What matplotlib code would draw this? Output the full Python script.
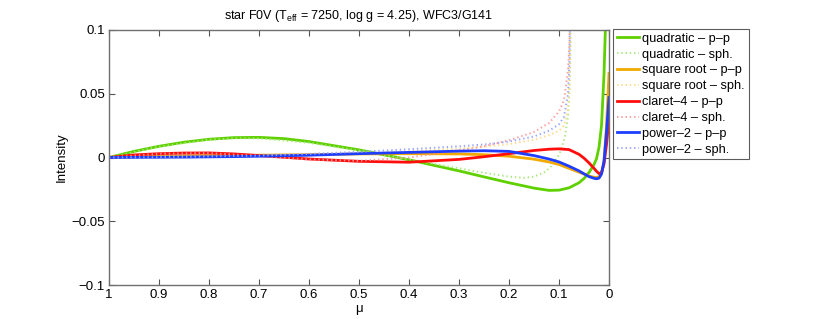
import matplotlib
matplotlib.use("Agg")
import matplotlib.pyplot as plt
from matplotlib.ticker import FixedLocator, FixedFormatter

plt.rcParams['font.family'] = ['Liberation Sans', 'DejaVu Sans']
plt.rcParams['mathtext.default'] = 'regular'

# ---- data ----
mu_pp = [1.0, 0.95, 0.9, 0.85, 0.8, 0.75, 0.7, 0.65, 0.6, 0.5, 0.4, 0.3, 0.25, 0.2, 0.15,
         0.12, 0.1, 0.08, 0.06, 0.05, 0.04, 0.03, 0.025, 0.02, 0.015, 0.01, 0.005, 0.0]
quad_pp = [0.0, 0.0048, 0.0088, 0.0120, 0.0143, 0.0156, 0.0158, 0.0148, 0.0125, 0.0060,
           -0.0018, -0.0105, -0.0152, -0.0198, -0.0240, -0.0258, -0.0256, -0.0238, -0.0198,
           -0.0165, -0.0118, -0.0055, -0.0010, 0.0080, 0.0250, 0.0650, 0.1300, 0.2000]
sqrt_pp = [0.0, 0.0006, 0.0010, 0.0013, 0.0015, 0.0017, 0.0018, 0.0020, 0.0022, 0.0028,
           0.0030, 0.0028, 0.0022, 0.0010, -0.0013, -0.0035, -0.0055, -0.0085, -0.0115,
           -0.0130, -0.0145, -0.0155, -0.0156, -0.0150, -0.0125, -0.0030, 0.0250, 0.0660]
clar_pp = [0.0, 0.0020, 0.0030, 0.0035, 0.0036, 0.0028, 0.0015, 0.0002, -0.0012, -0.0030,
           -0.0037, -0.0015, 0.0006, 0.0030, 0.0055, 0.0065, 0.0068, 0.0062, 0.0025, -0.0005,
           -0.0042, -0.0085, -0.0108, -0.0126, -0.0120, -0.0050, 0.0100, 0.0300]
pow_pp = [0.0, 0.0001, 0.0002, 0.0003, 0.0005, 0.0007, 0.0010, 0.0014, 0.0018, 0.0030,
          0.0040, 0.0050, 0.0053, 0.0048, 0.0015, -0.0012, -0.0035, -0.0068, -0.0105,
          -0.0128, -0.0150, -0.0163, -0.0167, -0.0162, -0.0130, -0.0030, 0.0200, 0.0470]

mu_quad_sph = [1.0, 0.9, 0.8, 0.75, 0.7, 0.6, 0.5, 0.4, 0.3, 0.25, 0.2, 0.17, 0.15, 0.13,
               0.118, 0.1, 0.095, 0.088, 0.082, 0.079, 0.077, 0.0765]
quad_sph = [0.0, 0.0085, 0.0140, 0.0150, 0.0150, 0.0115, 0.0055, -0.0015, -0.0085, -0.0120,
            -0.0150, -0.0160, -0.0150, -0.0118, -0.0080, 0.0020, 0.0070, 0.0170, 0.0320,
            0.0520, 0.0850, 0.2000]

mu_sph = [1.0, 0.9, 0.8, 0.7, 0.6, 0.5, 0.4, 0.3, 0.25, 0.2, 0.15, 0.12, 0.1, 0.09, 0.082,
          0.079, 0.0765]
sqrt_sph = [0.0, 0.0010, 0.0017, 0.0020, 0.0025, 0.0035, 0.0050, 0.0070, 0.0085, 0.0105,
            0.0140, 0.0175, 0.0210, 0.0250, 0.0380, 0.0600, 0.2000]
clar_sph = [0.0, 0.0030, 0.0035, 0.0012, -0.0015, -0.0026, 0.0000, 0.0055, 0.0088, 0.0135,
            0.0200, 0.0270, 0.0360, 0.0450, 0.0680, 0.0900, 0.2000]
pow_sph = [0.0, 0.0003, 0.0008, 0.0015, 0.0028, 0.0045, 0.0065, 0.0088, 0.0102, 0.0125,
           0.0165, 0.0210, 0.0260, 0.0320, 0.0500, 0.0750, 0.2000]

labels = ['quadratic – p–p', 'quadratic – sph.', 'square root – p–p', 'square root – sph.',
          'claret–4 – p–p', 'claret–4 – sph.', 'power–2 – p–p', 'power–2 – sph.']

x_ticks = [1.0, 0.9, 0.8, 0.7, 0.6, 0.5, 0.4, 0.3, 0.2, 0.1, 0.0]
x_ticklabels = ['1', '0.9', '0.8', '0.7', '0.6', '0.5', '0.4', '0.3', '0.2', '0.1', '0']
y_ticks = [-0.1, -0.05, 0.0, 0.05, 0.1]
y_ticklabels = ['\u22120.1', '\u22120.05', '0', '0.05', '0.1']

# ---- styles ----
c_green, c_green_l = '#5fd000', '#a8e87a'
c_orange, c_orange_l = '#f2a900', '#ffd98a'
c_red, c_red_l = '#ff0d0d', '#ff9a9a'
c_blue, c_blue_l = '#1f3dff', '#98a4ff'
lw_s, lw_d = 2.0, 1.4
dot = (0, (0.7, 1.5))

fig = plt.figure(figsize=(8.30, 3.19), dpi=100)
ax = fig.add_axes([109/830, 1-285/319, 500/830, 255/319])

ax.plot(mu_pp, quad_pp, color=c_green, lw=lw_s, label=labels[0])
ax.plot(mu_quad_sph, quad_sph, color=c_green_l, lw=lw_d, ls=dot, label=labels[1])
ax.plot(mu_pp, sqrt_pp, color=c_orange, lw=lw_s, label=labels[2])
ax.plot(mu_sph, sqrt_sph, color=c_orange_l, lw=lw_d, ls=dot, label=labels[3])
ax.plot(mu_pp, clar_pp, color=c_red, lw=lw_s, label=labels[4])
ax.plot(mu_sph, clar_sph, color=c_red_l, lw=lw_d, ls=dot, label=labels[5])
ax.plot(mu_pp, pow_pp, color=c_blue, lw=lw_s, label=labels[6])
ax.plot(mu_sph, pow_sph, color=c_blue_l, lw=lw_d, ls=dot, label=labels[7])

ax.set_xlim(1, 0)
ax.set_ylim(-0.1, 0.1)
ax.xaxis.set_major_locator(FixedLocator(x_ticks))
ax.xaxis.set_major_formatter(FixedFormatter(x_ticklabels))
ax.yaxis.set_major_locator(FixedLocator(y_ticks))
ax.yaxis.set_major_formatter(FixedFormatter(y_ticklabels))
ax.tick_params(direction='in', top=True, right=True, length=4, width=0.8,
               color='#555555', labelsize=9.5, pad=3)
for s in ax.spines.values():
    s.set_color('#707070')
    s.set_linewidth(1.0)

ax.set_xlabel('μ', fontsize=9.5, labelpad=1)
ax.set_ylabel('Intensity', fontsize=9.5)
ax.yaxis.set_label_coords(68/830, 1 - 157/319, transform=fig.transFigure)
ax.set_title('star F0V (T$_{eff}$ = 7250, log g = 4.25), WFC3/G141', fontsize=9, pad=8)

leg = ax.legend(loc='upper left', bbox_to_anchor=(613/830, 1-29/319),
                bbox_transform=fig.transFigure, fontsize=9.2, frameon=True,
                fancybox=False, borderaxespad=0, borderpad=0.3, handlelength=1.7,
                handletextpad=0.3, labelspacing=0.3)
leg.get_frame().set_edgecolor('#333333')
leg.get_frame().set_linewidth(0.8)

fig.savefig('out.png', dpi=100)
